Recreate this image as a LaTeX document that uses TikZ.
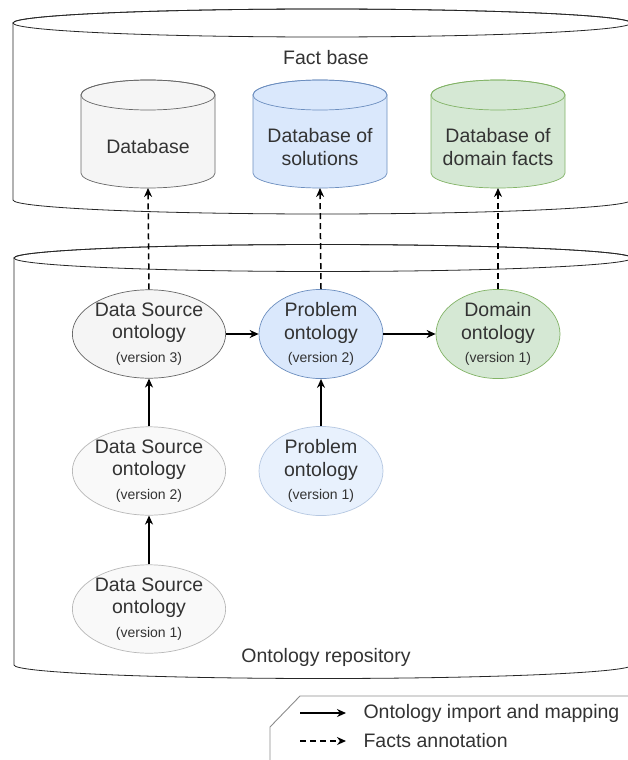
\documentclass[tikz,border=0pt]{standalone}
\usepackage{fontspec}
\setmainfont{Liberation Sans}
\usetikzlibrary{shapes.geometric,arrows.meta}

\definecolor{greyfill}{HTML}{F5F5F5}
\definecolor{greyline}{HTML}{666666}
\definecolor{bluefill}{HTML}{DAE8FC}
\definecolor{blueline}{HTML}{6C8EBF}
\definecolor{greenfill}{HTML}{D5E8D4}
\definecolor{greenline}{HTML}{82B366}
\definecolor{txt}{HTML}{333333}

\newcommand{\ver}[1]{\\[1pt]{\fontsize{14}{16}\selectfont (version #1)}}

% can: centre x, top ellipse y, bottom ellipse y, x radius, y radius, style
\newcommand{\can}[6]{%
  \draw[#6] (#1-#4,#2) -- (#1-#4,#3)
    arc[start angle=180, end angle=0, x radius=#4, y radius=#5]
    -- (#1+#4,#2)
    arc[start angle=0, end angle=-180, x radius=#4, y radius=#5] -- cycle;
  \draw[#6, fill opacity=0] (#1,#2) ellipse[x radius=#4, y radius=#5];}

\tikzset{
  bigcan/.style={draw=black!85, fill=white, line width=0.8pt},
  lbl/.style={align=center, text=txt, font=\fontsize{19.5}{22.5}\selectfont},
  onto/.style={ellipse, minimum width=124pt, minimum height=82pt, inner sep=0pt,
    line width=0.7pt, lbl},
  old/.style={draw opacity=0.45, fill opacity=0.6, text opacity=1},
  imp/.style={-{Stealth[length=9pt,width=8pt]}, line width=1.5pt},
  ann/.style={imp, dash pattern=on 6pt off 4pt},
}

\begin{document}
\begin{tikzpicture}[x=1pt,y=-1pt]

  \useasboundingbox (0,0) rectangle (628,760);
  \clip (0,0) rectangle (628,760);

  % the two stores
  \can{322}{23}{200}{309}{14}{bigcan}
  \draw (326,58) node [lbl] (factlbl) {Fact base};

  \can{323}{258}{665}{309}{13.5}{bigcan}
  \draw (326,657) node [lbl] (repolbl) {Ontology repository};

  % databases
  \can{148}{95}{173}{67}{15}{draw=greyline, fill=greyfill, line width=0.7pt}
  \draw (148,147) node [lbl] (dbA) {Database};
  \coordinate (dbAbot) at (148,188);

  \can{320}{95}{173}{67}{15}{draw=blueline, fill=bluefill, line width=0.7pt}
  \draw (320,147) node [lbl] (dbB) {Database of\\solutions};
  \coordinate (dbBbot) at (320,188);

  \can{498}{95}{173}{67}{15}{draw=greenline, fill=greenfill, line width=0.7pt}
  \draw (498,147) node [lbl] (dbC) {Database of\\domain facts};
  \coordinate (dbCbot) at (498,188);

  % ontologies
  \draw (149,334) node [onto, draw=greyline, fill=greyfill] (dsC)
  {Data Source\\ontology\ver{3}};

  \draw (149,471) node [onto, old, draw=greyline, fill=greyfill] (dsB)
  {Data Source\\ontology\ver{2}};

  \draw (149,609) node [onto, old, draw=greyline, fill=greyfill] (dsA)
  {Data Source\\ontology\ver{1}};

  \draw (321,334) node [onto, draw=blueline, fill=bluefill] (probB)
  {Problem\\ontology\ver{2}};

  \draw (321,471) node [onto, old, draw=blueline, fill=bluefill] (probA)
  {Problem\\ontology\ver{1}};

  \draw (498,334) node [onto, draw=greenline, fill=greenfill] (domA)
  {Domain\\ontology\ver{1}};

  \draw[imp] (dsA.north) -- (dsB.south);
  \draw[imp] (dsB.north) -- (dsC.south);
  \draw[imp] (probA.north) -- (probB.south);
  \draw[imp] (dsC.east) -- (probB.west);
  \draw[imp] (probB.east) -- (domA.west);

  \draw[ann] (dsC.north) -- (dbAbot);
  \draw[ann] (probB.north) -- (dbBbot);
  \draw[ann] (domA.north) -- (dbCbot);

  % legend
  \draw[black!45, line width=0.9pt] (270,770) -- (270,727) -- (300,696) -- (640,696);
  \draw (360,713) node [lbl, anchor=west] (lgimp) {Ontology import and mapping};
  \draw (360,741) node [lbl, anchor=west] (lgann) {Facts annotation};
  \coordinate (lgA) at (300,713);
  \coordinate (lgB) at (300,741);
  \draw[imp] (lgA) -- ([xshift=-14pt]lgimp.west);
  \draw[ann] (lgB) -- ([xshift=-14pt]lgann.west);

\end{tikzpicture}
\end{document}
